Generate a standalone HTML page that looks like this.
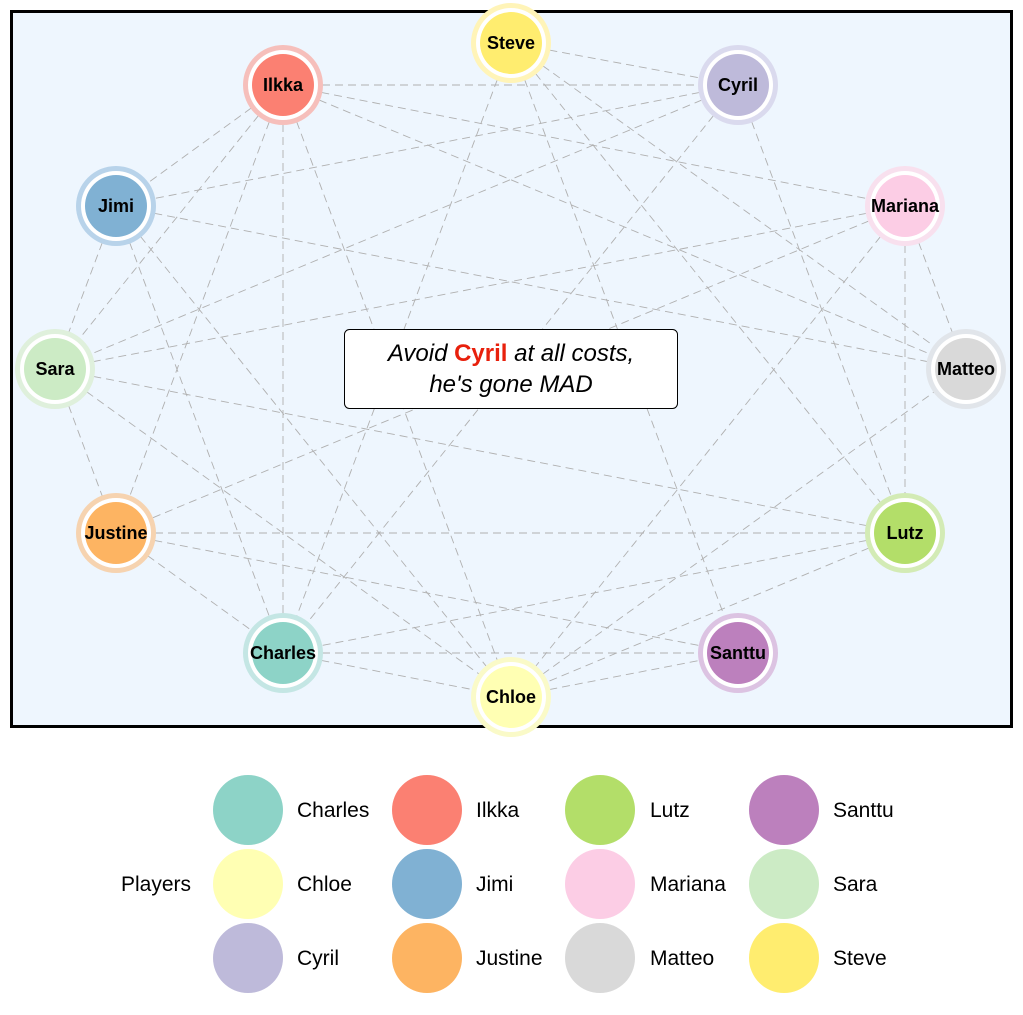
<!DOCTYPE html>
<html><head><meta charset="utf-8"><style>
body{margin:0;background:#fff;width:1023px;height:1010px;overflow:hidden;font-family:"Liberation Sans",sans-serif}
</style></head><body>
<svg width="1023" height="1010" xmlns="http://www.w3.org/2000/svg" font-family="Liberation Sans, sans-serif">
<rect x="11.5" y="11.5" width="1000" height="715" fill="#eef6fe" stroke="#000" stroke-width="3"/>
<g stroke="#b0b0b0" stroke-width="0.9" stroke-dasharray="8,5" fill="none">
<line x1="283" y1="85" x2="738" y2="85"/>
<line x1="283" y1="85" x2="116" y2="206"/>
<line x1="283" y1="85" x2="55" y2="369"/>
<line x1="283" y1="85" x2="116" y2="533"/>
<line x1="283" y1="85" x2="283" y2="653"/>
<line x1="283" y1="85" x2="511" y2="697"/>
<line x1="283" y1="85" x2="905" y2="206"/>
<line x1="283" y1="85" x2="966" y2="369"/>
<line x1="511" y1="43" x2="738" y2="85"/>
<line x1="511" y1="43" x2="283" y2="653"/>
<line x1="511" y1="43" x2="738" y2="653"/>
<line x1="511" y1="43" x2="905" y2="533"/>
<line x1="511" y1="43" x2="966" y2="369"/>
<line x1="738" y1="85" x2="116" y2="206"/>
<line x1="738" y1="85" x2="55" y2="369"/>
<line x1="738" y1="85" x2="283" y2="653"/>
<line x1="738" y1="85" x2="905" y2="533"/>
<line x1="116" y1="206" x2="966" y2="369"/>
<line x1="116" y1="206" x2="511" y2="697"/>
<line x1="116" y1="206" x2="55" y2="369"/>
<line x1="116" y1="206" x2="283" y2="653"/>
<line x1="905" y1="206" x2="55" y2="369"/>
<line x1="905" y1="206" x2="116" y2="533"/>
<line x1="905" y1="206" x2="905" y2="533"/>
<line x1="905" y1="206" x2="966" y2="369"/>
<line x1="905" y1="206" x2="511" y2="697"/>
<line x1="55" y1="369" x2="116" y2="533"/>
<line x1="55" y1="369" x2="905" y2="533"/>
<line x1="55" y1="369" x2="511" y2="697"/>
<line x1="116" y1="533" x2="905" y2="533"/>
<line x1="116" y1="533" x2="738" y2="653"/>
<line x1="116" y1="533" x2="283" y2="653"/>
<line x1="905" y1="533" x2="283" y2="653"/>
<line x1="905" y1="533" x2="511" y2="697"/>
<line x1="283" y1="653" x2="738" y2="653"/>
<line x1="283" y1="653" x2="511" y2="697"/>
<line x1="511" y1="697" x2="738" y2="653"/>
<line x1="511" y1="697" x2="966" y2="369"/>
</g>
<g font-weight="bold" font-size="18" text-anchor="middle">
<g><circle cx="511" cy="43" r="40" fill="#fff4b8"/><circle cx="511" cy="43" r="35" fill="#fff"/><circle cx="511" cy="43" r="31" fill="#ffed6f"/><text x="511" y="49">Steve</text></g>
<g><circle cx="283" cy="85" r="40" fill="#f6bfbb"/><circle cx="283" cy="85" r="35" fill="#fff"/><circle cx="283" cy="85" r="31" fill="#fb8072"/><text x="283" y="91">Ilkka</text></g>
<g><circle cx="738" cy="85" r="40" fill="#dadaee"/><circle cx="738" cy="85" r="35" fill="#fff"/><circle cx="738" cy="85" r="31" fill="#bebada"/><text x="738" y="91">Cyril</text></g>
<g><circle cx="116" cy="206" r="40" fill="#b8d3ea"/><circle cx="116" cy="206" r="35" fill="#fff"/><circle cx="116" cy="206" r="31" fill="#80b1d3"/><text x="116" y="212">Jimi</text></g>
<g><circle cx="905" cy="206" r="40" fill="#f8e0ee"/><circle cx="905" cy="206" r="35" fill="#fff"/><circle cx="905" cy="206" r="31" fill="#fccde5"/><text x="905" y="212">Mariana</text></g>
<g><circle cx="55" cy="369" r="40" fill="#dff0dc"/><circle cx="55" cy="369" r="35" fill="#fff"/><circle cx="55" cy="369" r="31" fill="#ccebc5"/><text x="55" y="375">Sara</text></g>
<g><circle cx="966" cy="369" r="40" fill="#e1e5ea"/><circle cx="966" cy="369" r="35" fill="#fff"/><circle cx="966" cy="369" r="31" fill="#d9d9d9"/><text x="966" y="375">Matteo</text></g>
<g><circle cx="116" cy="533" r="40" fill="#f6d3b0"/><circle cx="116" cy="533" r="35" fill="#fff"/><circle cx="116" cy="533" r="31" fill="#fdb462"/><text x="116" y="539">Justine</text></g>
<g><circle cx="905" cy="533" r="40" fill="#d3ebb5"/><circle cx="905" cy="533" r="35" fill="#fff"/><circle cx="905" cy="533" r="31" fill="#b3de69"/><text x="905" y="539">Lutz</text></g>
<g><circle cx="283" cy="653" r="40" fill="#c4e6e4"/><circle cx="283" cy="653" r="35" fill="#fff"/><circle cx="283" cy="653" r="31" fill="#8dd3c7"/><text x="283" y="659">Charles</text></g>
<g><circle cx="738" cy="653" r="40" fill="#dcc3e2"/><circle cx="738" cy="653" r="35" fill="#fff"/><circle cx="738" cy="653" r="31" fill="#bc80bd"/><text x="738" y="659">Santtu</text></g>
<g><circle cx="511" cy="697" r="40" fill="#fafac8"/><circle cx="511" cy="697" r="35" fill="#fff"/><circle cx="511" cy="697" r="31" fill="#ffffb3"/><text x="511" y="703">Chloe</text></g>
</g>
<rect x="344.5" y="329.5" width="333" height="79" rx="5" fill="#fff" stroke="#000" stroke-width="1"/>
<text x="511" y="361" text-anchor="middle" font-size="24" font-style="italic">Avoid <tspan font-style="normal" font-weight="bold" fill="#e8200c">Cyril</tspan> at all costs,</text>
<text x="511" y="392" text-anchor="middle" font-size="24" font-style="italic">he's gone MAD</text>
<g font-size="21">
<text x="121" y="891">Players</text>
<circle cx="248" cy="810" r="35" fill="#8dd3c7"/><text x="297" y="817">Charles</text>
<circle cx="248" cy="884" r="35" fill="#ffffb3"/><text x="297" y="891">Chloe</text>
<circle cx="248" cy="958" r="35" fill="#bebada"/><text x="297" y="965">Cyril</text>
<circle cx="427" cy="810" r="35" fill="#fb8072"/><text x="476" y="817">Ilkka</text>
<circle cx="427" cy="884" r="35" fill="#80b1d3"/><text x="476" y="891">Jimi</text>
<circle cx="427" cy="958" r="35" fill="#fdb462"/><text x="476" y="965">Justine</text>
<circle cx="600" cy="810" r="35" fill="#b3de69"/><text x="650" y="817">Lutz</text>
<circle cx="600" cy="884" r="35" fill="#fccde5"/><text x="650" y="891">Mariana</text>
<circle cx="600" cy="958" r="35" fill="#d9d9d9"/><text x="650" y="965">Matteo</text>
<circle cx="784" cy="810" r="35" fill="#bc80bd"/><text x="833" y="817">Santtu</text>
<circle cx="784" cy="884" r="35" fill="#ccebc5"/><text x="833" y="891">Sara</text>
<circle cx="784" cy="958" r="35" fill="#ffed6f"/><text x="833" y="965">Steve</text>
</g>
</svg>
</body></html>
